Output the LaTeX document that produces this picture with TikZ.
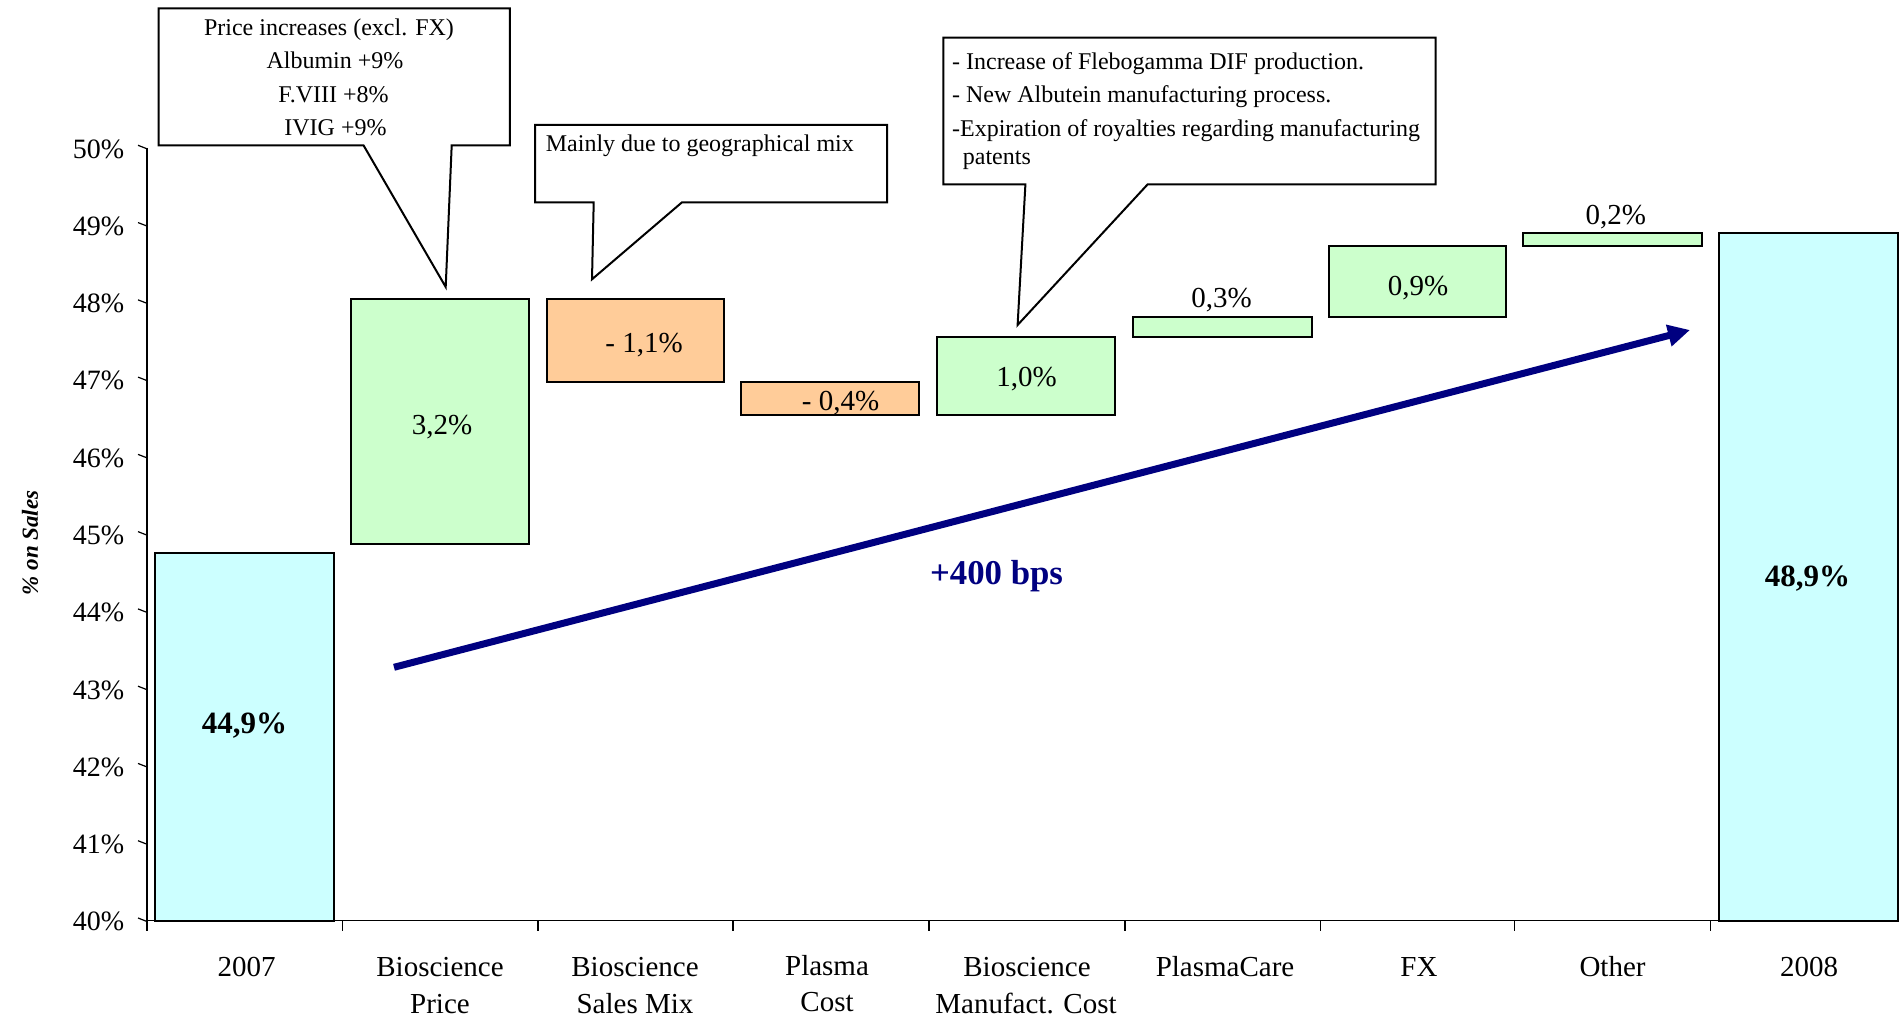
\documentclass[tikz,border=0pt]{standalone}
\usepackage{fontspec}
\setmainfont{Liberation Serif}
\usetikzlibrary{arrows.meta}
\definecolor{barcyan}{HTML}{CCFFFF}
\definecolor{bargreen}{HTML}{CCFFCC}
\definecolor{barorange}{HTML}{FFCC99}
\definecolor{navyblue}{HTML}{000080}
\begin{document}
\begin{tikzpicture}[x=0.5pt,y=-0.5pt,
  barbox/.style={draw=black,line width=1pt},
  callout/.style={draw=black,fill=white,line width=1pt,line join=miter},
  axisline/.style={draw=black,line width=0.7pt},
  ticklbl/.style={anchor=east,inner sep=0pt,font=\fontsize{14}{16}\selectfont},
  catlbl/.style={anchor=base,inner sep=0pt,font=\fontsize{14.5}{17}\selectfont},
  vallbl/.style={inner sep=0pt,font=\fontsize{14.5}{17}\selectfont},
  boldlbl/.style={inner sep=0pt,font=\fontsize{15.5}{18}\selectfont\bfseries},
  notetext/.style={inner sep=0pt,font=\fontsize{12}{14}\selectfont},
]
\useasboundingbox (0,0) rectangle (1899,1020);

% bars
\filldraw[barbox,fill=barcyan]   (155,552.7) rectangle (334,920.5);
\filldraw[barbox,fill=bargreen]  (351,299) rectangle (529,544);
\filldraw[barbox,fill=barorange] (547,299) rectangle (723.5,382);
\filldraw[barbox,fill=barorange] (741,382) rectangle (919,415.5);
\filldraw[barbox,fill=bargreen]  (937,337.3) rectangle (1115,415.5);
\filldraw[barbox,fill=bargreen]  (1133,317.3) rectangle (1312,337.5);
\filldraw[barbox,fill=bargreen]  (1329.4,246) rectangle (1506,317.3);
\filldraw[barbox,fill=bargreen]  (1523,232.7) rectangle (1702,246.5);
\filldraw[barbox,fill=barcyan]   (1719,232.7) rectangle (1898,920.5);

% axes
\draw[axisline] (147,147.8) -- (147,920.5) -- (1899,920.5);
\foreach \i in {0,...,10}{
  \pgfmathsetmacro{\yy}{920.5-77.27*\i}
  \pgfmathtruncatemacro{\pct}{40+\i}
  \draw[line width=0.6pt] (138,\yy-2.5) -- (147,\yy+1);
  \node[ticklbl] (tick\i) at (124.5,\yy+1.2) {\pct\%};
}
\foreach \xx in {147,342.5,538,733,929,1125,1320.5,1514.5,1710.5}{
  \draw[line width=0.6pt] (\xx,920.5) -- (\xx,931);
}

% y-axis title
\node[rotate=90,inner sep=0pt,font=\fontsize{11.5}{14}\selectfont\bfseries\itshape] (ytitle) at (30,543) {\% on Sales};

% category labels
\node[catlbl] (c1)  at (246.7,976.5) {2007};
\node[catlbl] (c2a) at (440,976.5) {Bioscience};
\node[catlbl] (c2b) at (440,1013.5) {Price};
\node[catlbl] (c3a) at (635,976.5) {Bioscience};
\node[catlbl] (c3b) at (635,1013.5) {Sales Mix};
\node[catlbl] (c4a) at (827,975) {Plasma};
\node[catlbl] (c4b) at (827,1011.5) {Cost};
\node[catlbl] (c5a) at (1027,976.5) {Bioscience};
\node[catlbl] (c5b) at (1026,1013.5) {Manufact. Cost};
\node[catlbl] (c6)  at (1225,976.5) {PlasmaCare};
\node[catlbl] (c7)  at (1419,976.5) {FX};
\node[catlbl] (c8)  at (1612.5,976.5) {Other};
\node[catlbl] (c9)  at (1809,976.5) {2008};

% value labels
\node[boldlbl] (v2007) at (244.5,726) {44,9\%};
\node[vallbl] (vprice) at (442,427.5) {3,2\%};
\node[vallbl] (vmix) at (644,345.5) {- 1,1\%};
\node[vallbl] (vplasma) at (840.5,403) {- 0,4\%};
\node[vallbl] (vmanu) at (1026.5,379) {1,0\%};
\node[vallbl] (vcare) at (1221.5,300) {0,3\%};
\node[vallbl] (vfx) at (1418,288.5) {0,9\%};
\node[vallbl] (voth) at (1615.7,217.5) {0,2\%};
\node[boldlbl] (v2008) at (1807.5,579) {48,9\%};

% trend arrow
\coordinate (arrstart) at (394,667.3);
\coordinate (arrend) at (1690,330);
\draw[navyblue,line width=3.5pt,-{Triangle[length=11pt,width=10.5pt]}] (arrstart) -- (arrend);
\node[inner sep=0pt,text=navyblue,font=\fontsize{17.4}{20}\selectfont\bfseries] (bps) at (996.5,576) {+400 bps};

% callout 1
\draw[callout] (158.7,8.5) -- (509.9,8.5) -- (509.9,145.3) -- (451.7,145.3) -- (445.7,287)
  -- (363.5,145.3) -- (158.7,145.3) -- cycle;
\node[notetext,anchor=base] (n1a) at (329,35.5) {Price increases (excl. FX)};
\node[notetext,anchor=base] (n1b) at (335,69) {Albumin +9\%};
\node[notetext,anchor=base] (n1c) at (333.5,102.5) {F.VIII +8\%};
\node[notetext,anchor=base] (n1d) at (335.5,136) {IVIG +9\%};

% callout 2
\draw[callout] (535,125) -- (887,125) -- (887,202.3) -- (682,202.3) -- (592,279.3)
  -- (593.7,202.3) -- (535,202.3) -- cycle;
\node[notetext,anchor=base west] (n2) at (545.5,151.5) {Mainly due to geographical mix};

% callout 3
\draw[callout] (943.3,37.7) -- (1435.5,37.7) -- (1435.5,184.3) -- (1147.7,184.3) -- (1017.6,325)
  -- (1025.4,184.3) -- (943.3,184.3) -- cycle;
\node[notetext,anchor=base west] (n3a) at (951.7,69.5) {- Increase of Flebogamma DIF production.};
\node[notetext,anchor=base west] (n3b) at (951.7,102.2) {- New Albutein manufacturing process.};
\node[notetext,anchor=base west] (n3c) at (951.7,136.2) {-Expiration of royalties regarding manufacturing};
\node[notetext,anchor=base west] (n3d) at (962.5,164.5) {patents};
\end{tikzpicture}
\end{document}
